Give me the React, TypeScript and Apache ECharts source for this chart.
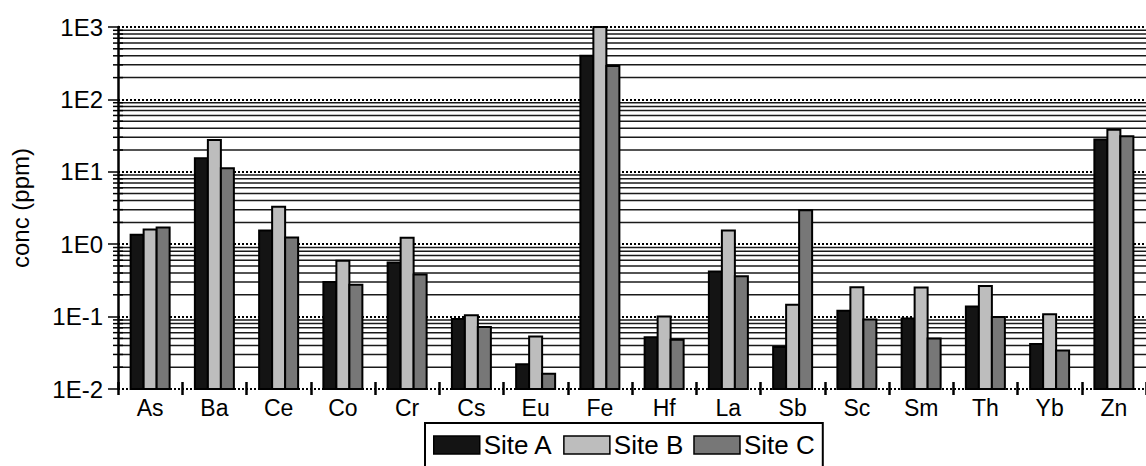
import React, { useEffect, useRef } from "react";
import * as echarts from "echarts";

const categories = ["As", "Ba", "Ce", "Co", "Cr", "Cs", "Eu", "Fe", "Hf", "La", "Sb", "Sc", "Sm", "Th", "Yb", "Zn"];
const siteA = [1.35, 15.4, 1.55, 0.3, 0.56, 0.093, 0.022, 400, 0.052, 0.42, 0.038, 0.12, 0.094, 0.138, 0.042, 28];
const siteB = [1.6, 27.5, 3.3, 0.59, 1.23, 0.104, 0.053, 1000, 0.1, 1.55, 0.146, 0.255, 0.252, 0.265, 0.108, 38];
const siteC = [1.7, 11.2, 1.24, 0.275, 0.38, 0.072, 0.0163, 290, 0.048, 0.36, 2.95, 0.091, 0.05, 0.099, 0.034, 31];
const decadeLabels: Record<string, string> = { "-2": "1E-2", "-1": "1E-1", "0": "1E0", "1": "1E1", "2": "1E2", "3": "1E3" };
const minorSteps = [2, 3, 4, 5, 6, 7, 8, 9];
const decades = [-2, -1, 0, 1, 2];
const Y_MIN = 0.01;
const Y_MAX = 1000;

const FONT = "Liberation Sans, Arial, sans-serif";
const BAR_W = 13;

export default function App() {
  const ref = useRef<HTMLDivElement>(null);
  useEffect(() => {
    document.body.style.margin = "0";
    if (!ref.current) return;
    const chart = echarts.init(ref.current, null, { renderer: "svg" });
    const minorData: number[][] = [];
    decades.forEach((d) => minorSteps.forEach((m) => minorData.push([0, m * Math.pow(10, d)])));

    const barSeries = (name: string, values: number[], color: string, offset: number) => ({
      type: "custom",
      name,
      z: 3,
      itemStyle: { color, borderColor: "#000", borderWidth: 2 },
      data: values.map((v, i) => [i, v]),
      encode: { x: 0, y: 1 },
      renderItem: (params: any, api: any) => {
        const i = api.value(0);
        const v = api.value(1);
        const top = api.coord([i, v]);
        const base = api.coord([i, Y_MIN]);
        const x = top[0] + offset * BAR_W - BAR_W / 2;
        return {
          type: "rect",
          shape: { x, y: top[1], width: BAR_W, height: base[1] - top[1] },
          style: { fill: color, stroke: "#000", lineWidth: 2 },
        };
      },
    });

    chart.setOption({
      animation: false,
      textStyle: { fontFamily: FONT, color: "#000" },
      grid: { left: 115, right: 0, top: 27, bottom: 77, containLabel: false },
      legend: {
        data: ["Site A", "Site B", "Site C"],
        left: 425,
        top: 423,
        itemWidth: 46,
        itemHeight: 18,
        itemGap: 10,
        borderColor: "#000",
        borderWidth: 2,
        padding: [9, 8, 20, 8],
        textStyle: { fontFamily: FONT, fontSize: 26, color: "#000", padding: [0, 0, 0, -1] },
        icon: "rect",
        itemStyle: { borderColor: "#000", borderWidth: 1.5 },
      },
      xAxis: [
        {
          type: "category",
          data: categories,
          axisLine: { show: false },
          axisTick: { show: true, length: 6, lineStyle: { color: "#000", width: 2.5 } },
          axisLabel: { fontFamily: FONT, fontSize: 23, color: "#000", margin: 7 },
          splitLine: { show: false },
        },
        {
          type: "category",
          data: categories,
          position: "bottom",
          axisLine: { show: false },
          axisTick: { show: true, inside: true, length: 7, lineStyle: { color: "#000", width: 2.5 } },
          axisLabel: { show: false },
          splitLine: { show: false },
        },
      ],
      yAxis: {
        type: "log",
        logBase: 10,
        min: Y_MIN,
        max: Y_MAX,
        interval: 1,
        name: "conc (ppm)",
        nameLocation: "middle",
        nameGap: 86,
        nameTextStyle: { fontFamily: FONT, fontSize: 24, color: "#000" },
        axisLine: { show: true, lineStyle: { color: "#000", width: 2.5 } },
        axisTick: { show: true, length: 10, lineStyle: { color: "#000", width: 1.5 } },
        axisLabel: {
          fontFamily: FONT,
          fontSize: 24,
          color: "#000",
          margin: 15,
          formatter: (v: number) => decadeLabels[String(Math.round(Math.log10(v)))] ?? "",
        },
        splitLine: { show: true, lineStyle: { color: "#000", width: 2, type: [2, 2] } },
      },
      series: [
        {
          type: "custom",
          name: "minor",
          silent: true,
          z: 1,
          data: minorData,
          encode: { x: 0, y: 1 },
          renderItem: (params: any, api: any) => {
            const y = api.coord([0, api.value(1)])[1];
            const cs = params.coordSys;
            return {
              type: "group",
              children: [
                { type: "line", shape: { x1: cs.x, y1: y, x2: cs.x + cs.width, y2: y }, style: { stroke: "#1a1a1a", lineWidth: 1.5 } },
                { type: "line", shape: { x1: cs.x - 5, y1: y, x2: cs.x + 5, y2: y }, style: { stroke: "#000", lineWidth: 1.5 } },
              ],
            };
          },
        },
        barSeries("Site A", siteA, "#141414", -1),
        barSeries("Site B", siteB, "#bdbdbd", 0),
        barSeries("Site C", siteC, "#777777", 1),
      ],
    });
    return () => chart.dispose();
  }, []);
  return <div ref={ref} style={{ width: 1146, height: 466 }} />;
}
